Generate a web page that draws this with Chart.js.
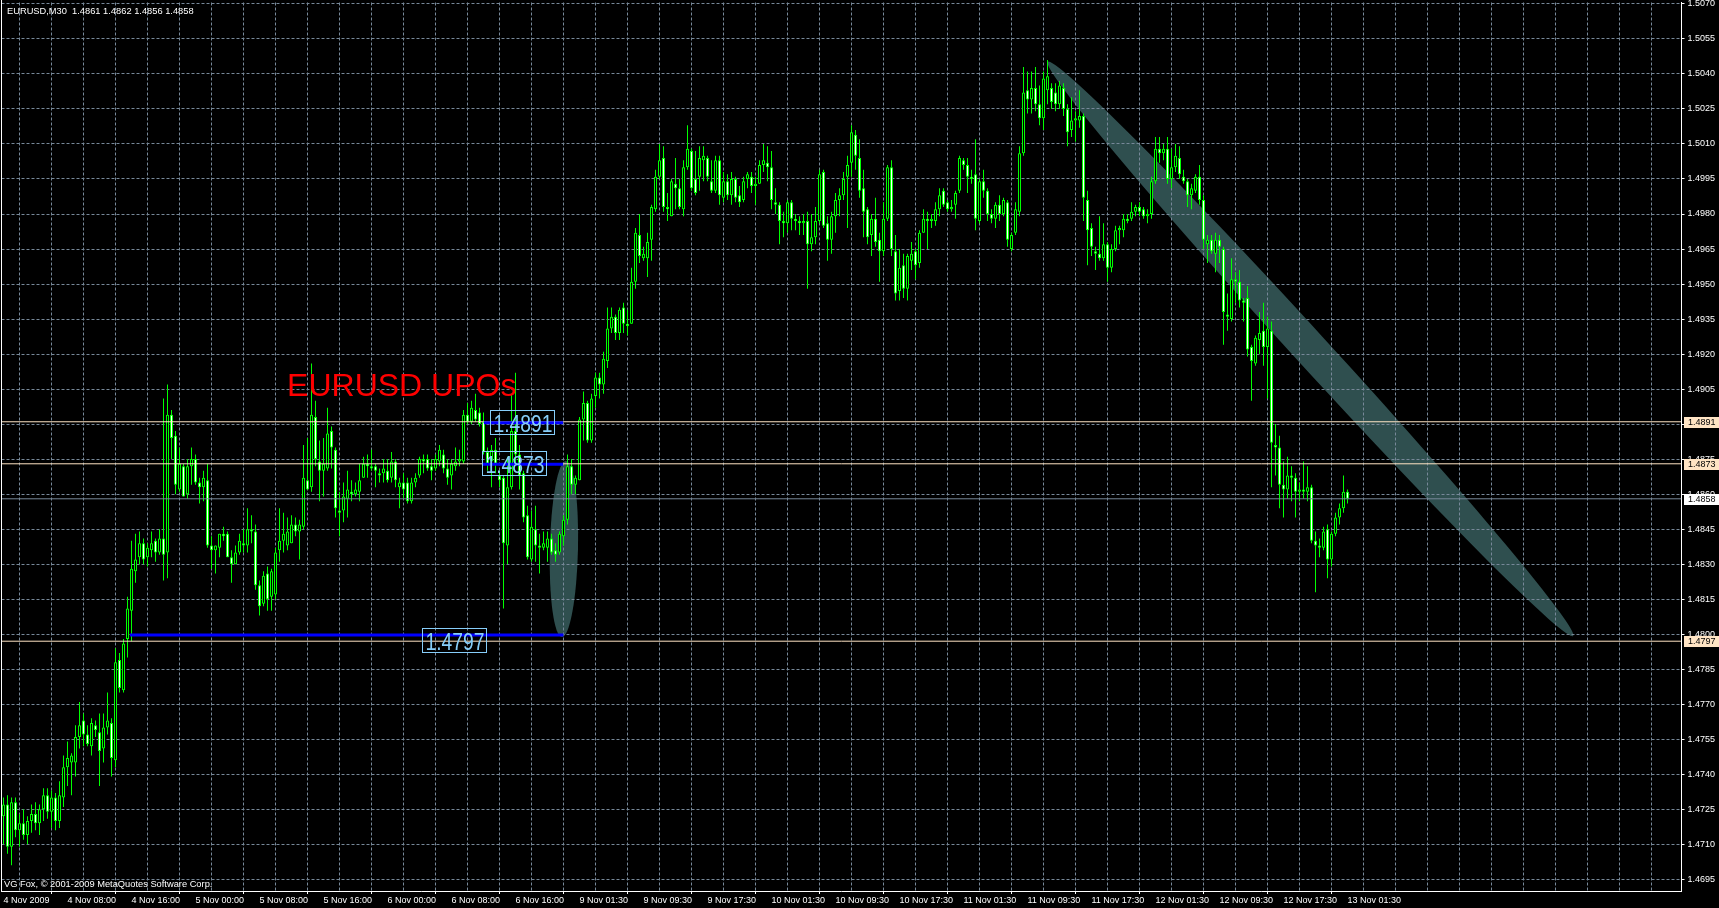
<!DOCTYPE html>
<html><head><meta charset="utf-8">
<script src="https://cdn.jsdelivr.net/npm/chart.js@4.4.1/dist/chart.umd.min.js"></script>
<style>
html,body{margin:0;padding:0;background:#000;overflow:hidden}
canvas{display:block;background:#000}
</style></head><body>
<canvas id="c" width="1719" height="908"></canvas>
<script>
// ---------------- DATA ----------------
const symbol = 'EURUSD';
const timeframe = 'M30';
const copyrightText = 'VG Fox, \u00A9 2001-2009 MetaQuotes Software Corp.';
const chartNote = 'EURUSD UPOs';

// x tick labels, one every 16 bars (8 hours of M30 bars)
const xTickLabels = ['4 Nov 2009','4 Nov 08:00','4 Nov 16:00','5 Nov 00:00','5 Nov 08:00','5 Nov 16:00',
  '6 Nov 00:00','6 Nov 08:00','6 Nov 16:00','9 Nov 01:30','9 Nov 09:30','9 Nov 17:30','10 Nov 01:30',
  '10 Nov 09:30','10 Nov 17:30','11 Nov 01:30','11 Nov 09:30','11 Nov 17:30','12 Nov 01:30','12 Nov 09:30',
  '12 Nov 17:30','13 Nov 01:30'];

const yTicks = [1.4695,1.4710,1.4725,1.4740,1.4755,1.4770,1.4785,1.4800,1.4815,1.4830,1.4845,1.4860,1.4875,
  1.4890,1.4905,1.4920,1.4935,1.4950,1.4965,1.4980,1.4995,1.5010,1.5025,1.5040,1.5055,1.5070];

const opens = [
1.4722,1.4727,1.4709,1.4728,1.4716,1.4719,1.4714,1.4720,1.4723,1.4719,
1.4725,1.4731,1.4724,1.4730,1.4720,1.4730,1.4743,1.4745,1.4745,1.4756,
1.4763,1.4757,1.4752,1.4761,1.4758,1.4751,1.4760,1.4762,1.4746,1.4789,
1.4776,1.4798,1.4810,1.4827,1.4833,1.4839,1.4833,1.4836,1.4840,1.4835,
1.4841,1.4835,1.4894,1.4885,1.4862,1.4872,1.4860,1.4872,1.4875,1.4865,
1.4863,1.4866,1.4838,1.4836,1.4837,1.4843,1.4843,1.4833,1.4830,1.4835,
1.4839,1.4838,1.4845,1.4844,1.4821,1.4813,1.4826,1.4816,1.4817,1.4836,
1.4840,1.4838,1.4839,1.4847,1.4844,1.4846,1.4866,1.4863,1.4893,1.4874,
1.4870,1.4871,1.4887,1.4879,1.4853,1.4853,1.4858,1.4861,1.4860,1.4861,
1.4867,1.4873,1.4872,1.4872,1.4869,1.4869,1.4870,1.4867,1.4874,1.4863,
1.4865,1.4865,1.4857,1.4865,1.4868,1.4875,1.4875,1.4872,1.4871,1.4874,
1.4877,1.4871,1.4868,1.4872,1.4874,1.4874,1.4894,1.4891,1.4896,1.4895,
1.4891,1.4878,1.4874,1.4879,1.4868,1.4867,1.4838,1.4863,1.4887,1.4877,
1.4869,1.4851,1.4832,1.4845,1.4838,1.4837,1.4837,1.4841,1.4836,1.4835,
1.4842,1.4849,1.4872,1.4864,1.4866,1.4892,1.4899,1.4883,1.4902,1.4910,
1.4907,1.4917,1.4931,1.4936,1.4929,1.4940,1.4933,1.4933,1.4951,1.4971,
1.4961,1.4961,1.4969,1.4982,1.4996,1.5004,1.4983,1.4979,1.4993,1.4991,
1.4982,1.5000,1.5007,1.4995,1.4996,1.5003,1.5004,1.4994,1.4990,1.5003,
1.4987,1.4994,1.4988,1.4995,1.4988,1.4986,1.4995,1.4996,1.4992,1.4993,
1.5001,1.5002,1.5000,1.4985,1.4984,1.4977,1.4976,1.4985,1.4978,1.4977,
1.4976,1.4977,1.4967,1.4970,1.4977,1.4998,1.4976,1.4969,1.4979,1.4986,
1.4988,1.4996,1.5002,1.5014,1.5004,1.4991,1.4982,1.4971,1.4978,1.4969,
1.4964,1.4978,1.5000,1.4964,1.4947,1.4958,1.4948,1.4960,1.4964,1.4959,
1.4972,1.4978,1.4977,1.4977,1.4982,1.4990,1.4985,1.4982,1.4984,1.4990,
1.5003,1.5001,1.4996,1.4997,1.4977,1.4994,1.4990,1.4980,1.4978,1.4984,
1.4980,1.4985,1.4965,1.4972,1.4981,1.5006,1.5033,1.5029,1.5034,1.5027,
1.5021,1.5033,1.5034,1.5032,1.5027,1.5034,1.5025,1.5016,1.5020,1.5020,
1.5022,1.4986,1.4974,1.4964,1.4963,1.4961,1.4967,1.4957,1.4965,1.4973,
1.4973,1.4978,1.4978,1.4981,1.4983,1.4982,1.4979,1.4980,1.4994,1.5008,
1.5006,1.5008,1.4995,1.5000,1.5004,1.4996,1.4994,1.4988,1.4990,1.4996,
1.4986,1.4967,1.4969,1.4963,1.4969,1.4965,1.4937,1.4935,1.4952,1.4951,
1.4943,1.4944,1.4923,1.4916,1.4926,1.4930,1.4923,1.4930,1.4881,1.4880,
1.4864,1.4862,1.4868,1.4867,1.4861,1.4862,1.4861,1.4863,1.4840,1.4838,
1.4837,1.4845,1.4832,1.4843,1.4850,1.4854,1.4861];

const highs = [
1.4730,1.4731,1.4730,1.4730,1.4723,1.4725,1.4722,1.4727,1.4728,1.4727,
1.4734,1.4734,1.4733,1.4732,1.4737,1.4748,1.4754,1.4749,1.4761,1.4771,
1.4766,1.4761,1.4764,1.4763,1.4766,1.4766,1.4775,1.4764,1.4794,1.4792,
1.4798,1.4816,1.4840,1.4843,1.4844,1.4841,1.4839,1.4844,1.4841,1.4845,
1.4901,1.4907,1.4896,1.4887,1.4880,1.4873,1.4875,1.4880,1.4877,1.4867,
1.4870,1.4873,1.4842,1.4838,1.4843,1.4846,1.4844,1.4836,1.4838,1.4843,
1.4845,1.4854,1.4851,1.4847,1.4823,1.4827,1.4829,1.4828,1.4837,1.4854,
1.4852,1.4850,1.4851,1.4850,1.4849,1.4881,1.4884,1.4916,1.4900,1.4883,
1.4884,1.4897,1.4889,1.4880,1.4861,1.4865,1.4870,1.4866,1.4865,1.4873,
1.4876,1.4877,1.4879,1.4873,1.4871,1.4875,1.4875,1.4878,1.4875,1.4867,
1.4869,1.4867,1.4867,1.4869,1.4876,1.4877,1.4877,1.4875,1.4877,1.4881,
1.4879,1.4875,1.4875,1.4880,1.4879,1.4896,1.4899,1.4900,1.4903,1.4897,
1.4895,1.4880,1.4881,1.4884,1.4870,1.4868,1.4876,1.4903,1.4912,1.4881,
1.4870,1.4855,1.4853,1.4855,1.4843,1.4844,1.4844,1.4843,1.4839,1.4844,
1.4851,1.4877,1.4875,1.4868,1.4893,1.4904,1.4900,1.4903,1.4912,1.4912,
1.4921,1.4940,1.4940,1.4937,1.4940,1.4942,1.4939,1.4957,1.4974,1.4980,
1.4966,1.4972,1.4984,1.4999,1.5010,1.5009,1.4989,1.4995,1.5004,1.4995,
1.5003,1.5018,1.5008,1.5007,1.5009,1.5009,1.5005,1.5003,1.5005,1.5005,
1.4998,1.4997,1.4998,1.4996,1.4992,1.4996,1.4998,1.4998,1.4996,1.5003,
1.5010,1.5009,1.5007,1.4991,1.4985,1.4981,1.4986,1.4986,1.4980,1.4979,
1.4980,1.4981,1.4980,1.4983,1.4999,1.4999,1.4979,1.4981,1.4989,1.4991,
1.4998,1.5005,1.5018,1.5016,1.5012,1.4999,1.4983,1.4980,1.4987,1.4972,
1.4985,1.5001,1.5003,1.4971,1.4965,1.4963,1.4963,1.4968,1.4965,1.4973,
1.4982,1.4981,1.4980,1.4985,1.4991,1.4991,1.4986,1.4986,1.4990,1.5005,
1.5004,1.5004,1.4999,1.5012,1.4995,1.4999,1.4991,1.4982,1.4985,1.4988,
1.4987,1.4986,1.4972,1.4985,1.5009,1.5043,1.5041,1.5041,1.5043,1.5035,
1.5041,1.5046,1.5036,1.5036,1.5037,1.5036,1.5027,1.5030,1.5024,1.5033,
1.5023,1.4990,1.4976,1.4966,1.4979,1.4976,1.4968,1.4967,1.4975,1.4975,
1.4980,1.4980,1.4985,1.4984,1.4985,1.4983,1.4982,1.4996,1.5013,1.5013,
1.5010,1.5013,1.5008,1.5010,1.5009,1.4999,1.4995,1.4993,1.4997,1.5001,
1.4988,1.4971,1.4971,1.4972,1.4971,1.4966,1.4946,1.4961,1.4955,1.4956,
1.4944,1.4949,1.4924,1.4928,1.4938,1.4942,1.4936,1.4934,1.4890,1.4885,
1.4874,1.4876,1.4872,1.4869,1.4865,1.4874,1.4872,1.4864,1.4844,1.4841,
1.4846,1.4847,1.4844,1.4852,1.4856,1.4868,1.4862];

const lows = [
1.4710,1.4706,1.4701,1.4713,1.4709,1.4712,1.4710,1.4715,1.4716,1.4714,
1.4720,1.4721,1.4717,1.4716,1.4717,1.4726,1.4735,1.4731,1.4739,1.4751,
1.4752,1.4752,1.4748,1.4756,1.4735,1.4745,1.4757,1.4739,1.4743,1.4775,
1.4775,1.4790,1.4797,1.4822,1.4830,1.4830,1.4829,1.4833,1.4831,1.4834,
1.4823,1.4824,1.4875,1.4860,1.4861,1.4859,1.4858,1.4864,1.4864,1.4856,
1.4857,1.4837,1.4828,1.4826,1.4833,1.4840,1.4833,1.4822,1.4830,1.4834,
1.4835,1.4835,1.4839,1.4819,1.4808,1.4812,1.4810,1.4810,1.4815,1.4831,
1.4835,1.4836,1.4839,1.4842,1.4832,1.4845,1.4862,1.4861,1.4872,1.4857,
1.4859,1.4870,1.4871,1.4850,1.4842,1.4848,1.4850,1.4857,1.4859,1.4857,
1.4867,1.4867,1.4870,1.4863,1.4865,1.4865,1.4865,1.4865,1.4863,1.4854,
1.4858,1.4856,1.4856,1.4863,1.4867,1.4869,1.4870,1.4866,1.4870,1.4872,
1.4869,1.4864,1.4862,1.4870,1.4872,1.4873,1.4890,1.4890,1.4891,1.4889,
1.4877,1.4870,1.4863,1.4869,1.4863,1.4811,1.4830,1.4862,1.4873,1.4862,
1.4848,1.4832,1.4831,1.4831,1.4826,1.4836,1.4831,1.4834,1.4831,1.4834,
1.4838,1.4847,1.4860,1.4860,1.4866,1.4883,1.4882,1.4882,1.4897,1.4901,
1.4903,1.4914,1.4929,1.4926,1.4926,1.4929,1.4928,1.4933,1.4948,1.4959,
1.4960,1.4953,1.4960,1.4981,1.4995,1.4981,1.4977,1.4979,1.4982,1.4982,
1.4979,1.4999,1.4990,1.4988,1.4990,1.4994,1.4994,1.4989,1.4989,1.4984,
1.4985,1.4986,1.4984,1.4985,1.4983,1.4985,1.4991,1.4989,1.4984,1.4993,
1.4998,1.4994,1.4982,1.4980,1.4967,1.4970,1.4972,1.4973,1.4973,1.4971,
1.4971,1.4948,1.4964,1.4967,1.4976,1.4974,1.4960,1.4963,1.4972,1.4979,
1.4986,1.4974,1.4996,1.4999,1.4987,1.4970,1.4967,1.4962,1.4966,1.4951,
1.4962,1.4977,1.4962,1.4943,1.4943,1.4944,1.4943,1.4956,1.4952,1.4957,
1.4972,1.4965,1.4974,1.4975,1.4979,1.4983,1.4981,1.4981,1.4978,1.4989,
1.4999,1.4989,1.4993,1.4973,1.4976,1.4987,1.4977,1.4976,1.4974,1.4977,
1.4979,1.4966,1.4964,1.4971,1.4979,1.5005,1.5023,1.5023,1.5024,1.5018,
1.5016,1.5027,1.5025,1.5024,1.5025,1.5022,1.5009,1.5013,1.5011,1.5017,
1.4977,1.4958,1.4962,1.4956,1.4960,1.4960,1.4951,1.4955,1.4964,1.4967,
1.4970,1.4976,1.4977,1.4979,1.4979,1.4978,1.4976,1.4978,1.4993,1.5002,
1.5003,1.4993,1.4991,1.4998,1.4995,1.4993,1.4983,1.4982,1.4989,1.4984,
1.4965,1.4959,1.4963,1.4955,1.4959,1.4924,1.4930,1.4934,1.4942,1.4940,
1.4934,1.4919,1.4900,1.4915,1.4920,1.4915,1.4901,1.4863,1.4868,1.4854,
1.4850,1.4858,1.4857,1.4850,1.4857,1.4858,1.4857,1.4839,1.4818,1.4833,
1.4836,1.4824,1.4829,1.4842,1.4847,1.4852,1.4856];

const closes = [
1.4727,1.4709,1.4728,1.4716,1.4719,1.4714,1.4720,1.4723,1.4719,1.4725,
1.4731,1.4724,1.4730,1.4720,1.4731,1.4743,1.4747,1.4748,1.4756,1.4761,
1.4757,1.4753,1.4762,1.4759,1.4750,1.4760,1.4763,1.4747,1.4788,1.4777,
1.4796,1.4811,1.4828,1.4832,1.4839,1.4832,1.4837,1.4839,1.4835,1.4841,
1.4834,1.4894,1.4884,1.4864,1.4873,1.4859,1.4872,1.4875,1.4865,1.4863,
1.4867,1.4838,1.4836,1.4838,1.4843,1.4842,1.4833,1.4830,1.4835,1.4840,
1.4838,1.4845,1.4844,1.4821,1.4812,1.4825,1.4815,1.4827,1.4835,1.4840,
1.4843,1.4844,1.4847,1.4844,1.4847,1.4867,1.4862,1.4894,1.4875,1.4870,
1.4873,1.4886,1.4880,1.4854,1.4852,1.4859,1.4862,1.4860,1.4862,1.4866,
1.4873,1.4872,1.4871,1.4870,1.4868,1.4871,1.4866,1.4874,1.4866,1.4865,
1.4862,1.4857,1.4865,1.4867,1.4875,1.4874,1.4871,1.4870,1.4875,1.4879,
1.4871,1.4867,1.4873,1.4874,1.4875,1.4894,1.4891,1.4897,1.4892,1.4890,
1.4878,1.4873,1.4879,1.4873,1.4866,1.4839,1.4863,1.4887,1.4877,1.4868,
1.4850,1.4833,1.4846,1.4838,1.4837,1.4839,1.4841,1.4835,1.4834,1.4843,
1.4849,1.4872,1.4864,1.4867,1.4892,1.4899,1.4883,1.4901,1.4910,1.4907,
1.4918,1.4931,1.4936,1.4929,1.4939,1.4933,1.4932,1.4951,1.4972,1.4962,
1.4963,1.4968,1.4983,1.4996,1.5003,1.4983,1.4982,1.4994,1.4991,1.4983,
1.5000,1.5008,1.4991,1.4989,1.5004,1.5005,1.4996,1.4990,1.5003,1.4988,
1.4994,1.4988,1.4995,1.4987,1.4985,1.4994,1.4997,1.4992,1.4993,1.5001,
1.5003,1.5000,1.4986,1.4984,1.4977,1.4976,1.4985,1.4978,1.4977,1.4976,
1.4977,1.4967,1.4970,1.4977,1.4997,1.4975,1.4969,1.4979,1.4986,1.4988,
1.4995,1.5001,1.5015,1.5005,1.4990,1.4981,1.4970,1.4978,1.4968,1.4964,
1.4978,1.5000,1.4965,1.4946,1.4957,1.4948,1.4962,1.4963,1.4958,1.4972,
1.4978,1.4977,1.4978,1.4982,1.4988,1.4984,1.4982,1.4983,1.4989,1.5004,
1.5001,1.4996,1.4995,1.4978,1.4994,1.4990,1.4980,1.4978,1.4984,1.4980,
1.4986,1.4969,1.4971,1.4982,1.5006,1.5032,1.5029,1.5034,1.5027,1.5021,
1.5038,1.5039,1.5028,1.5027,1.5035,1.5025,1.5015,1.5020,1.5021,1.5022,
1.4987,1.4973,1.4966,1.4963,1.4961,1.4967,1.4957,1.4965,1.4973,1.4974,
1.4978,1.4977,1.4981,1.4983,1.4981,1.4979,1.4980,1.4994,1.5008,1.5006,
1.5008,1.4995,1.5000,1.5005,1.4997,1.4994,1.4988,1.4991,1.4996,1.4986,
1.4969,1.4969,1.4964,1.4969,1.4966,1.4938,1.4936,1.4952,1.4951,1.4943,
1.4942,1.4922,1.4917,1.4927,1.4929,1.4923,1.4931,1.4882,1.4880,1.4864,
1.4862,1.4868,1.4867,1.4861,1.4862,1.4861,1.4863,1.4840,1.4838,1.4837,
1.4844,1.4832,1.4843,1.4850,1.4854,1.4861,1.4858];

// horizontal price lines
const levelLines = [1.4891, 1.4873, 1.4797];

// blue trend segments (price, start bar, end bar)
const segPrices = [1.48906, 1.48728, 1.47997];
const segStart  = [120.1, 119.6, 31.6];
const segEnd    = [139.9, 139.9, 140.0];

// text labels in boxes (anchor: top-left at bar / price)
const boxTexts  = ['1.4891', '1.4873', '1.4797'];
const boxBars   = [121.6, 119.6, 104.6];
const boxPrices = [1.48960, 1.48785, 1.48027];

// red note anchor (baseline-left)
const noteBar = 70.9;
const notePrice = 1.49022;

// ellipses: two ends of main axis
const ellBarA   = [140.6, 261.05];
const ellPriceA = [1.48742, 1.50452];
const ellBarB   = [139.6, 392.4];
const ellPriceB = [1.47988, 1.47992];

// ---------------- STYLE ----------------
const FONT = '"Liberation Sans", Arial, sans-serif';
const GREEN = '#00FF00';
const GRID = '#778899';
const LEVEL_COLOR = '#FFE4C4';
const BID_COLOR = '#778899';
const ellRatio = [0.16, 0.044];
const N = opens.length;
const X_MIN = -0.5, X_MAX = 419.5;
const Y_MIN = 1.46900, Y_MAX = 1.50706;
const gridBars = [];
for (let v = 0; v <= 416; v += 8) gridBars.push(v);

Chart.defaults.font.family = FONT;
Chart.defaults.font.size = 9;
Chart.defaults.color = '#fff';

const idx = opens.map((_, i) => i);
const datasets = [];

datasets.push({
  type: 'bar', label: 'wick',
  data: idx.map(i => ({x: i, y: [lows[i], highs[i]]})),
  backgroundColor: GREEN, borderWidth: 0, barThickness: 1,
  grouped: false, inflateAmount: 0, order: 6
});
datasets.push({
  type: 'bar', label: 'body',
  data: idx.map(i => ({x: i, y: [Math.min(opens[i], closes[i]), Math.max(opens[i], closes[i])]})),
  backgroundColor: idx.map(i => closes[i] < opens[i] ? '#FFFFFF' : '#000000'),
  borderColor: GREEN, borderWidth: 1, borderSkipped: false, barThickness: 3,
  grouped: false, inflateAmount: 0, minBarLength: 1, order: 5
});
levelLines.forEach(v => datasets.push({
  type: 'line', data: [{x: X_MIN, y: v}, {x: X_MAX, y: v}],
  borderColor: LEVEL_COLOR, borderWidth: 1, pointRadius: 0, order: 3
}));
datasets.push({
  type: 'line', data: [{x: X_MIN, y: closes[N - 1]}, {x: X_MAX, y: closes[N - 1]}],
  borderColor: BID_COLOR, borderWidth: 1, pointRadius: 0, order: 3
});
segPrices.forEach((v, k) => datasets.push({
  type: 'line', data: [{x: segStart[k], y: v}, {x: segEnd[k], y: v}],
  borderColor: '#0000FF', borderWidth: 3, pointRadius: 0, order: 1
}));

function condensedText(ctx, text, x, y, size, targetW) {
  ctx.save();
  ctx.font = size + 'px ' + FONT;
  const w = ctx.measureText(text).width;
  ctx.translate(x, y);
  ctx.scale(targetW / w, 1);
  ctx.fillText(text, 0, 0);
  ctx.restore();
}

const overlay = {
  id: 'overlay',
  beforeDraw(chart) {
    const {ctx, chartArea: a, scales: {x, y}} = chart;
    ctx.save();
    ctx.beginPath();
    ctx.rect(a.left, a.top, a.right - a.left, a.bottom - a.top);
    ctx.clip();
    ctx.fillStyle = '#2F4F4F';
    for (let k = 0; k < ellBarA.length; k++) {
      const x1 = x.getPixelForValue(ellBarA[k]), y1 = y.getPixelForValue(ellPriceA[k]);
      const x2 = x.getPixelForValue(ellBarB[k]), y2 = y.getPixelForValue(ellPriceB[k]);
      const r = Math.hypot(x2 - x1, y2 - y1) / 2;
      ctx.beginPath();
      ctx.ellipse((x1 + x2) / 2, (y1 + y2) / 2, r, r * ellRatio[k], Math.atan2(y2 - y1, x2 - x1), 0, Math.PI * 2);
      ctx.fill();
    }
    ctx.restore();
  },
  afterDraw(chart) {
    const {ctx, chartArea: a, scales: {x, y}} = chart;
    ctx.save();
    // left frame line
    ctx.fillStyle = '#FFFFFF';
    ctx.fillRect(1, 0, 1, Math.round(a.bottom) + 1);

    // red note
    ctx.fillStyle = '#FF0000';
    ctx.font = '32px ' + FONT;
    ctx.textAlign = 'left';
    ctx.textBaseline = 'alphabetic';
    ctx.fillText(chartNote, x.getPixelForValue(noteBar), y.getPixelForValue(notePrice));

    // boxed price labels
    ctx.strokeStyle = '#87CEFA';
    ctx.fillStyle = '#87CEFA';
    ctx.lineWidth = 1;
    for (let k = 0; k < boxTexts.length; k++) {
      const bx = Math.round(x.getPixelForValue(boxBars[k])) + 0.5;
      const by = Math.round(y.getPixelForValue(boxPrices[k])) + 0.5;
      ctx.strokeRect(bx, by, 64, 24);
      condensedText(ctx, boxTexts[k], bx + 3, by + 21.5, 23, 59);
    }

    // right axis price boxes
    ctx.font = '9px ' + FONT;
    ctx.textBaseline = 'middle';
    const drawAxisBox = (v, bg) => {
      const py = Math.round(y.getPixelForValue(v));
      ctx.fillStyle = bg;
      ctx.fillRect(Math.round(a.right) + 2, py - 5, 36, 11);
      ctx.fillStyle = '#000000';
      ctx.fillText(v.toFixed(4), Math.round(a.right) + 6, py + 0.5);
    };
    levelLines.forEach(v => drawAxisBox(v, LEVEL_COLOR));
    drawAxisBox(closes[N - 1], '#FFFFFF');

    // header and copyright
    ctx.fillStyle = '#FFFFFF';
    ctx.font = '9.3px ' + FONT;
    ctx.textBaseline = 'alphabetic';
    const header = symbol + ',' + timeframe + '  ' + opens[N - 1].toFixed(4) + ' ' + highs[N - 1].toFixed(4) + ' ' +
      lows[N - 1].toFixed(4) + ' ' + closes[N - 1].toFixed(4);
    ctx.fillText(header, 7, 13.5);
    ctx.fillText(copyrightText, 4, 887);
    ctx.restore();
  }
};

new Chart(document.getElementById('c'), {
  type: 'bar',
  data: { datasets },
  plugins: [overlay],
  options: {
    responsive: false,
    animation: false,
    events: [],
    devicePixelRatio: 1,
    layout: { padding: { left: 1.5, top: 2.5, right: 0, bottom: 0 }, autoPadding: false },
    plugins: { legend: { display: false }, tooltip: { enabled: false } },
    scales: {
      x: {
        type: 'linear', min: X_MIN, max: X_MAX, offset: false,
        afterBuildTicks: s => { s.ticks = gridBars.map(v => ({value: v})); },
        afterFit: s => { s.height = 17; s.paddingLeft = 0; s.paddingRight = 0; },
        grid: {
          color: GRID, lineWidth: 1, drawTicks: true, tickLength: 3,
          tickColor: c => (c.tick && c.tick.value % 16 === 0 && c.tick.value / 16 < xTickLabels.length) ? '#FFFFFF' : 'rgba(0,0,0,0)'
        },
        border: { display: true, color: '#FFFFFF', width: 1, dash: [3, 2] },
        ticks: {
          color: '#FFFFFF', align: 'start', maxRotation: 0, minRotation: 0, autoSkip: false, padding: 1,
          font: { family: FONT, size: 9 },
          callback: v => (v % 16 === 0 && v / 16 < xTickLabels.length) ? xTickLabels[v / 16] : ''
        }
      },
      y: {
        type: 'linear', position: 'right', min: Y_MIN, max: Y_MAX,
        afterBuildTicks: s => { s.ticks = yTicks.map(v => ({value: v})); },
        afterFit: s => { s.width = 37.5; s.paddingTop = 0; s.paddingBottom = 0; },
        grid: { color: GRID, lineWidth: 1, drawTicks: true, tickLength: 3, tickColor: '#FFFFFF' },
        border: { display: true, color: '#FFFFFF', width: 1, dash: [3, 2] },
        ticks: {
          color: '#FFFFFF', padding: 3, autoSkip: false,
          font: { family: FONT, size: 9 },
          callback: v => Number(v).toFixed(4)
        }
      }
    }
  }
});
</script>
</body></html>
